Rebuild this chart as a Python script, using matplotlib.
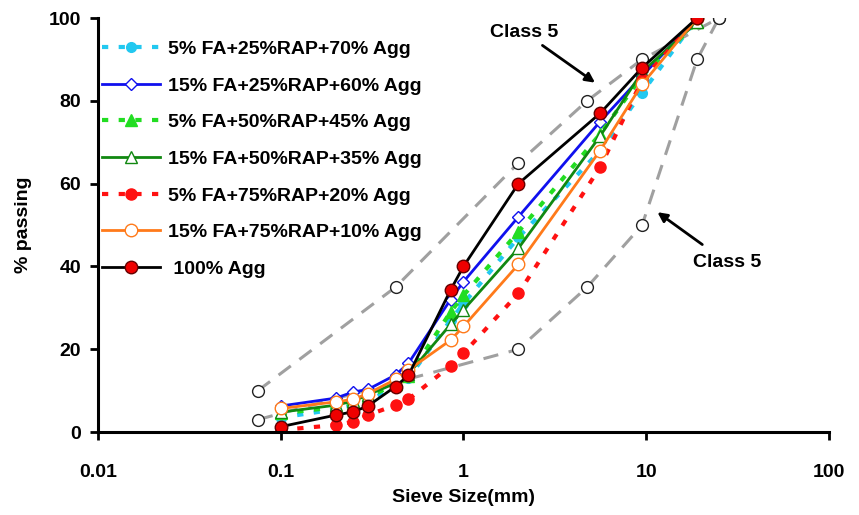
import matplotlib
matplotlib.use('Agg')
import matplotlib.pyplot as plt

plt.rcParams['font.family'] = ['Liberation Sans', 'DejaVu Sans']
plt.rcParams['font.weight'] = 'bold'

# sieve sizes (mm)
sieve = [0.1, 0.2, 0.25, 0.3, 0.425, 0.5, 0.85, 1.0, 2.0, 5.6, 9.5, 19]

fa5_rap25 = [3.5, 5.5, 6.5, 7.5, 11, 13, 27, 31, 47, 68, 82, 100]
fa15_rap25 = [6.3, 8.2, 9.7, 10.3, 13.8, 16.6, 32, 36.3, 52, 75, 86, 100]
fa5_rap50 = [4.5, 6, 7, 8.5, 11.5, 13.5, 29, 33, 48.4, 72, 86, 99]
fa15_rap50 = [4.8, 6.5, 7.5, 9, 11.8, 14, 26, 29.5, 44.4, 71.5, 87, 99]
fa5_rap75 = [0.5, 1.7, 2.5, 4.1, 6.5, 7.9, 16, 19, 33.5, 64, 85, 100]
fa15_rap75 = [5.7, 7.3, 7.9, 9.3, 12.7, 15, 22.2, 25.5, 40.5, 68, 84, 100]
agg100 = [1.3, 4.1, 4.9, 6.3, 11, 13.7, 34.3, 40, 60, 77, 88, 100]

# Class 5 gradation limits
c5_up_x = [0.075, 0.425, 2.0, 4.75, 9.5, 25]
c5_up_y = [10, 35, 65, 80, 90, 100]
c5_lo_x = [0.075, 2.0, 4.75, 9.5, 19, 25]
c5_lo_y = [3, 20, 35, 50, 90, 100]

fig = plt.figure(figsize=(8.59, 5.15), dpi=100)
ax = fig.add_axes([0.114, 0.161, 0.851, 0.804])

dash = dict(color='#a0a0a0', lw=2.2, dashes=(5, 3.5), marker='o', ms=8.5,
            mfc='white', mec='#222222', mew=1.0)
ax.plot(c5_up_x, c5_up_y, **dash)
ax.plot(c5_lo_x, c5_lo_y, **dash)

ax.plot(sieve, fa5_rap25, ls=(0, (1.5, 2.5)), color='#22c8f0', lw=3, marker='o',
        ms=7, mfc='#22c8f0', mec='#22c8f0', label='5% FA+25%RAP+70% Agg')
ax.plot(sieve, fa15_rap25, '-', color='#1010ee', lw=2, marker='D', ms=6.5,
        mfc='white', mec='#1010ee', label='15% FA+25%RAP+60% Agg')
ax.plot(sieve, fa5_rap50, ls=(0, (1.5, 2.5)), color='#22dd22', lw=3, marker='^',
        ms=8, mfc='#22dd22', mec='#22dd22', label='5% FA+50%RAP+45% Agg')
ax.plot(sieve, fa15_rap50, '-', color='#118811', lw=2, marker='^', ms=9,
        mfc='white', mec='#118811', label='15% FA+50%RAP+35% Agg')
ax.plot(sieve, fa5_rap75, ls=(0, (1.5, 2.5)), color='#ff1111', lw=3, marker='o',
        ms=8, mfc='#ff1111', mec='#ff1111', label='5% FA+75%RAP+20% Agg')
ax.plot(sieve, fa15_rap75, '-', color='#ff7a1a', lw=2, marker='o', ms=9,
        mfc='white', mec='#ff7a1a', label='15% FA+75%RAP+10% Agg')
ax.plot(sieve, agg100, '-', color='black', lw=2, marker='o', ms=9,
        mfc='#ee0000', mec='#660000', label=' 100% Agg')

ax.set_xscale('log')
ax.set_xlim(0.01, 100)
ax.set_ylim(0, 100)
ax.set_xticks([0.01, 0.1, 1, 10, 100])
ax.set_xticklabels(['0.01', '0.1', '1', '10', '100'])
ax.set_yticks([0, 20, 40, 60, 80, 100])
ax.minorticks_off()
ax.tick_params(direction='out', width=2, length=6, labelsize=14, pad=6)
ax.tick_params(axis='x', pad=17)
for s in ['top', 'right']:
    ax.spines[s].set_visible(False)
for s in ['left', 'bottom']:
    ax.spines[s].set_linewidth(2.2)

ax.set_xlabel('Sieve Size(mm)', fontsize=14, fontweight='bold', labelpad=6)
ax.set_ylabel('% passing', fontsize=14, fontweight='bold', labelpad=12)

ax.legend(loc='upper left', bbox_to_anchor=(-0.005, 0.965), frameon=False,
          fontsize=14, handlelength=3.0, labelspacing=0.98, handletextpad=0.4,
          borderaxespad=0)

ax.annotate('Class 5', xy=(5.4, 84), xytext=(1.4, 96.5), fontsize=14,
            fontweight='bold', ha='left', va='center',
            arrowprops=dict(arrowstyle='-|>', color='black', lw=2))
ax.annotate('Class 5', xy=(11.2, 53.5), xytext=(18, 41), fontsize=14,
            fontweight='bold', ha='left', va='center',
            arrowprops=dict(arrowstyle='-|>', color='black', lw=2,
                            shrinkA=8))

fig.savefig('out.png', dpi=100)
